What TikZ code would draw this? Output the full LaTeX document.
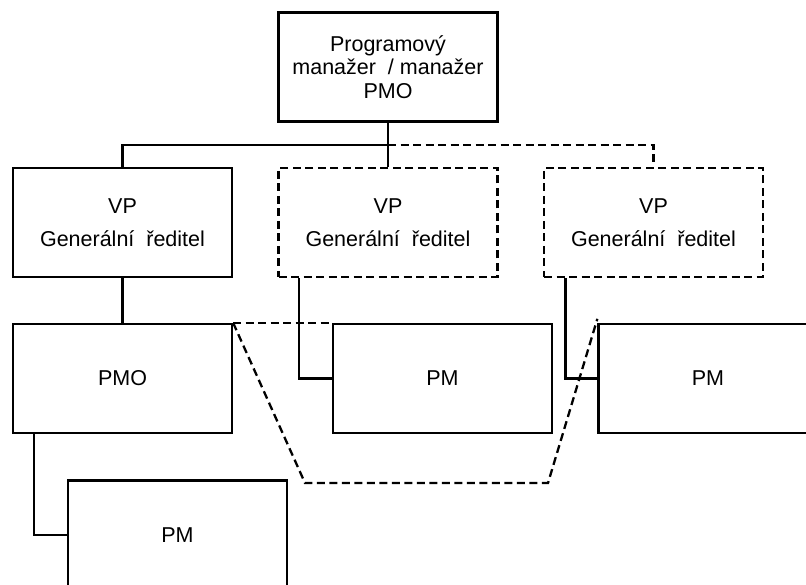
\documentclass[tikz,border=0pt]{standalone}
\usepackage{fontspec}
\setmainfont{Liberation Sans}
\begin{document}
\begin{tikzpicture}[x=1pt,y=-1pt,
  box/.style={draw, line width=2.3pt, minimum width=219pt, minimum height=109pt, inner sep=0pt, align=center, font=\fontsize{21.5}{23.5}\selectfont},
  dbox/.style={box, dash pattern=on 8pt off 4.5pt},
  conn/.style={line width=2.3pt},
  dconn/.style={line width=2.3pt, dash pattern=on 8pt off 4.5pt}]
\useasboundingbox (0,0) rectangle (806,585);
\clip (0,0) rectangle (806,585);
\node[box] (top) at (388,67) {Programový\\manažer\ \ / manažer\\PMO};
\node[box] (vp1) at (122.5,222.5) {VP\\[9pt]Generální\ \ ředitel};
\node[dbox] (vp2) at (388,222.5) {VP\\[9pt]Generální\ \ ředitel};
\node[dbox] (vp3) at (653.5,222.5) {VP\\[9pt]Generální\ \ ředitel};
\node[box] (pmo) at (122.5,378.5) {PMO};
\node[box] (pm2) at (442.5,378.5) {PM};
\node[box] (pm3) at (708,378.5) {PM};
\node[box] (pm4) at (177.5,535) {PM};
\coordinate (bus) at (388,145);
\coordinate (t1) at (305,483);
\coordinate (t2) at (548,483);
\draw[conn] (top.south) -- (vp2.north);
\draw[conn] (bus) -| (vp1.north);
\draw[dconn] (bus) -| (vp3.north);
\draw[conn] (vp1.south) -- (pmo.north);
\draw[conn] ([xshift=21.5pt]vp2.south west) |- (pm2.west);
\draw[conn] ([xshift=22.5pt]vp3.south west) |- (pm3.west);
\draw[conn] ([xshift=22pt]pmo.south west) |- (pm4.west);
\draw[dconn] (pmo.north east) -- (pm2.north west);
\draw[dconn] (pmo.north east) -- (t1) -- (t2) -- ([yshift=4pt]pm3.north west);
\end{tikzpicture}
\end{document}
